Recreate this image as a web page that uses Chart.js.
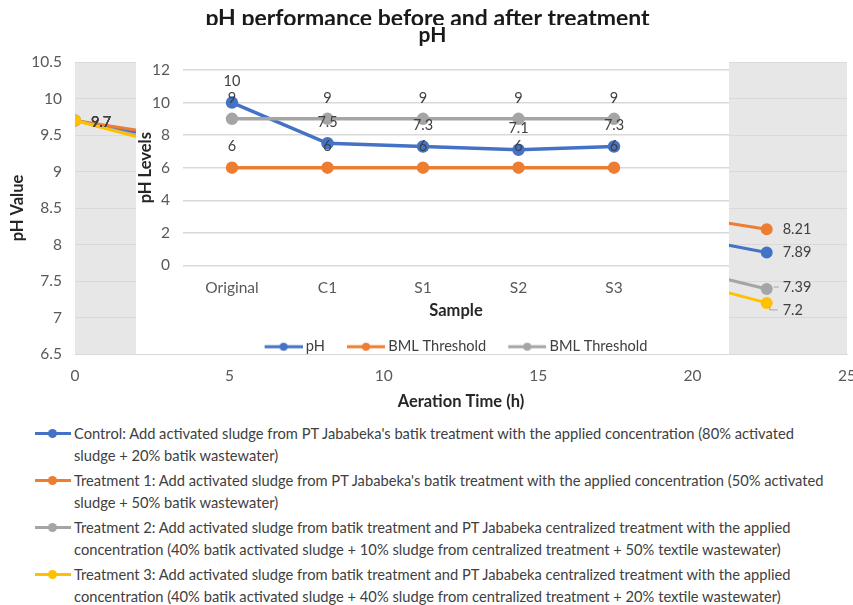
<!DOCTYPE html>
<html>
<head>
<meta charset="utf-8">
<script src="https://cdn.jsdelivr.net/npm/chart.js@4.4.1/dist/chart.umd.min.js"></script>
<style>
  body { margin: 0; background: #fff; }
  #wrap { position: relative; width: 853px; height: 605px; font-family: Lato, sans-serif; }
  #outer { position: absolute; left: 0; top: 0; }
  #inner { position: absolute; left: 136px; top: 25px; background: #fff; }
  #legend { position: absolute; left: 0; top: 422px; }
  .item { position: relative; padding-left: 74px; font-size: 14.7px; line-height: 22px; color: #404040; margin-bottom: 3px; white-space: nowrap; }
  .mark { position: absolute; left: 35px; top: 9.5px; width: 36px; height: 3px; }
  .mark i { position: absolute; left: 13px; top: -3px; width: 9px; height: 9px; border-radius: 50%; background: inherit; }
</style>
</head>
<body>
<div id="wrap">
  <canvas id="outer" width="853" height="415"></canvas>
  <canvas id="inner" width="593" height="329"></canvas>
  <div id="legend"></div>
</div>
<script>
// outer chart: pH vs aeration time
const aerationTime = [0, 22.4];
const controlPH = [9.7, 7.89];
const treatment1PH = [9.7, 8.21];
const treatment2PH = [9.7, 7.39];
const treatment3PH = [9.7, 7.2];
const treatmentNames = [
  ["Control: Add activated sludge from PT Jababeka's batik treatment with the applied concentration (80% activated", "sludge + 20% batik wastewater)"],
  ["Treatment 1: Add activated sludge from PT Jababeka's batik treatment with the applied concentration (50% activated", "sludge + 50% batik wastewater)"],
  ["Treatment 2: Add activated sludge from batik treatment and PT Jababeka centralized treatment with the applied", "concentration (40% batik activated sludge + 10% sludge from centralized treatment + 50% textile wastewater)"],
  ["Treatment 3: Add activated sludge from batik treatment and PT Jababeka centralized treatment with the applied", "concentration (40% batik activated sludge + 40% sludge from centralized treatment + 20% textile wastewater)"]
];

// inner chart: pH per sample
const samples = ['Original', 'C1', 'S1', 'S2', 'S3'];
const phLevels = [10, 7.5, 7.3, 7.1, 7.3];
const bmlLower = [6, 6, 6, 6, 6];
const bmlUpper = [9, 9, 9, 9, 9];

const colors = ['#4472C4', '#ED7D31', '#A5A5A5', '#FFC000'];

Chart.defaults.font.family = 'Lato, sans-serif';
Chart.defaults.animation = false;
Chart.defaults.events = [];

const xy = (xs, ys) => xs.map((x, i) => ({ x: x, y: ys[i] }));
const tickFont = { size: 15.5 };
const axisTitleFont = { size: 16.5, weight: 'bold' };

const plotBg = {
  id: 'plotBg',
  beforeDraw(chart) {
    const a = chart.chartArea, ctx = chart.ctx;
    ctx.save();
    ctx.fillStyle = '#E7E7E7';
    ctx.fillRect(a.left, a.top, a.right - a.left, a.bottom - a.top);
    ctx.restore();
  }
};

const sideLabels = {
  id: 'sideLabels',
  afterDatasetsDraw(chart) {
    const ctx = chart.ctx;
    ctx.save();
    ctx.font = '14.5px Lato, sans-serif';
    ctx.fillStyle = '#404040';
    ctx.textBaseline = 'middle';
    ctx.strokeStyle = '#A6A6A6';
    ctx.lineWidth = 1;
    chart.data.datasets.forEach((ds, di) => {
      chart.getDatasetMeta(di).data.forEach((pt, i) => {
        const dy = ds.labelDy[i];
        const lx = pt.x + 16, ly = pt.y + dy;
        if (i > 0 && dy > 3) {
          ctx.beginPath();
          ctx.moveTo(pt.x + 3, pt.y + 4);
          ctx.lineTo(pt.x + 3, ly);
          ctx.lineTo(lx - 5, ly);
          ctx.stroke();
        } else if (i > 0 && dy < 0) {
          ctx.beginPath();
          ctx.moveTo(pt.x + 7, ly);
          ctx.lineTo(lx - 4, ly);
          ctx.stroke();
        }
        ctx.fillText(String(ds.data[i].y), lx, ly);
      });
    });
    ctx.restore();
  }
};

const outerSeries = [controlPH, treatment1PH, treatment2PH, treatment3PH];
const outerDy = [[2, 0], [2, 0], [2, -2], [2, 7]];

new Chart(document.getElementById('outer'), {
  type: 'line',
  data: {
    datasets: outerSeries.map((s, i) => ({
      label: treatmentNames[i].join(' '),
      data: xy(aerationTime, s),
      borderColor: colors[i],
      backgroundColor: colors[i],
      borderWidth: 3,
      pointRadius: 4.5,
      order: 3 - i,
      labelDy: outerDy[i]
    }))
  },
  options: {
    responsive: false,
    layout: { autoPadding: false, padding: { left: 8, right: 6, top: 0, bottom: 0 } },
    plugins: {
      legend: { display: false },
      tooltip: { enabled: false },
      title: {
        display: true,
        text: 'pH performance before and after treatment',
        color: '#1a1a1a',
        font: { size: 23, weight: 'bold' },
        padding: { top: 5.2, bottom: 29.2 }
      }
    },
    scales: {
      x: {
        type: 'linear', min: 0, max: 25,
        ticks: { stepSize: 5, color: '#595959', font: tickFont, padding: 13 },
        grid: { display: false, drawTicks: false },
        border: { color: '#D9D9D9' },
        title: { display: true, text: 'Aeration Time (h)', color: '#262626', font: axisTitleFont, padding: { top: 0, bottom: 3.1 } },
        afterFit: s => { s.height = 61; s.paddingLeft = 0; s.paddingRight = 0; }
      },
      y: {
        min: 6.5, max: 10.5,
        ticks: { stepSize: 0.5, color: '#595959', font: tickFont, padding: 13, callback: v => String(v) },
        grid: { color: '#D9D9D9', drawTicks: false },
        border: { display: false },
        title: { display: true, text: 'pH Value', color: '#262626', font: axisTitleFont, padding: 0 },
        afterFit: s => { s.width = 67; s.paddingTop = 0; s.paddingBottom = 0; }
      }
    }
  },
  plugins: [plotBg, sideLabels]
});

// inner chart
function legendMarker(color) {
  const c = document.createElement('canvas');
  c.width = 42; c.height = 10;
  const g = c.getContext('2d');
  g.strokeStyle = color; g.lineWidth = 3;
  g.beginPath(); g.moveTo(4, 5); g.lineTo(42, 5); g.stroke();
  g.fillStyle = color;
  g.beginPath(); g.arc(23, 5, 4, 0, Math.PI * 2); g.fill();
  return c;
}
const innerColors = [colors[0], colors[1], colors[2]];
const markers = innerColors.map(legendMarker);
const idx = samples.map((s, i) => i);

const topLabels = {
  id: 'topLabels',
  afterDatasetsDraw(chart) {
    const ctx = chart.ctx;
    ctx.save();
    ctx.font = '14.5px Lato, sans-serif';
    ctx.fillStyle = '#404040';
    ctx.textAlign = 'center';
    ctx.textBaseline = 'middle';
    chart.data.datasets.forEach((ds, di) => {
      chart.getDatasetMeta(di).data.forEach((pt, i) => {
        ctx.fillText(String(ds.data[i].y), pt.x, pt.y - 21);
      });
    });
    ctx.restore();
  }
};

new Chart(document.getElementById('inner'), {
  type: 'line',
  data: {
    datasets: [
      { label: 'pH', data: xy(idx, phLevels), order: 2 },
      { label: 'BML Threshold', data: xy(idx, bmlLower), order: 1 },
      { label: 'BML Threshold', data: xy(idx, bmlUpper), order: 0 }
    ].map((d, i) => Object.assign(d, {
      borderColor: innerColors[i], backgroundColor: innerColors[i],
      borderWidth: 3.5, pointRadius: 4.5
    }))
  },
  options: {
    responsive: false,
    layout: { autoPadding: false, padding: { left: 0, right: 0, top: 0, bottom: -10 } },
    plugins: {
      tooltip: { enabled: false },
      title: {
        display: true, text: 'pH', color: '#1a1a1a',
        font: { size: 21, weight: 'bold' },
        padding: { top: -2, bottom: 21.8 }
      },
      legend: {
        position: 'bottom',
        fullSize: false,
        labels: {
          color: '#404040', font: { size: 14.6 }, padding: 22,
          usePointStyle: true, pointStyleWidth: 34,
          sort: (a, b) => a.datasetIndex - b.datasetIndex,
          generateLabels: chart => Chart.defaults.plugins.legend.labels.generateLabels(chart)
            .map(l => Object.assign(l, { pointStyle: markers[l.datasetIndex] }))
        }
      }
    },
    scales: {
      x: {
        type: 'linear', min: -0.513, max: 5.204,
        afterBuildTicks: s => { s.ticks = idx.map(v => ({ value: v })); },
        ticks: { color: '#595959', font: tickFont, padding: 13, callback: v => samples[v] },
        grid: { display: false, drawTicks: false },
        border: { display: false },
        title: { display: true, text: 'Sample', color: '#262626', font: axisTitleFont, padding: { top: 0, bottom: -3.5 } },
        afterFit: s => { s.height = 52; s.paddingLeft = 0; s.paddingRight = 0; }
      },
      y: {
        min: 0, max: 12,
        ticks: { stepSize: 2, color: '#595959', font: tickFont, padding: 13 },
        grid: { color: '#D9D9D9', drawTicks: false, lineWidth: 1.5 },
        border: { display: false },
        title: { display: true, text: 'pH Levels', color: '#262626', font: axisTitleFont, padding: 0 },
        afterFit: s => { s.width = 47; s.paddingTop = 0; s.paddingBottom = 0; }
      }
    }
  },
  plugins: [topLabels]
});

// outer legend (wrapped long labels)
const legendEl = document.getElementById('legend');
treatmentNames.forEach((lines, i) => {
  const item = document.createElement('div');
  item.className = 'item';
  const mark = document.createElement('span');
  mark.className = 'mark';
  mark.style.background = colors[i];
  mark.appendChild(document.createElement('i'));
  item.appendChild(mark);
  lines.forEach((t, j) => {
    if (j) item.appendChild(document.createElement('br'));
    item.appendChild(document.createTextNode(t));
  });
  legendEl.appendChild(item);
});
</script>
</body>
</html>
